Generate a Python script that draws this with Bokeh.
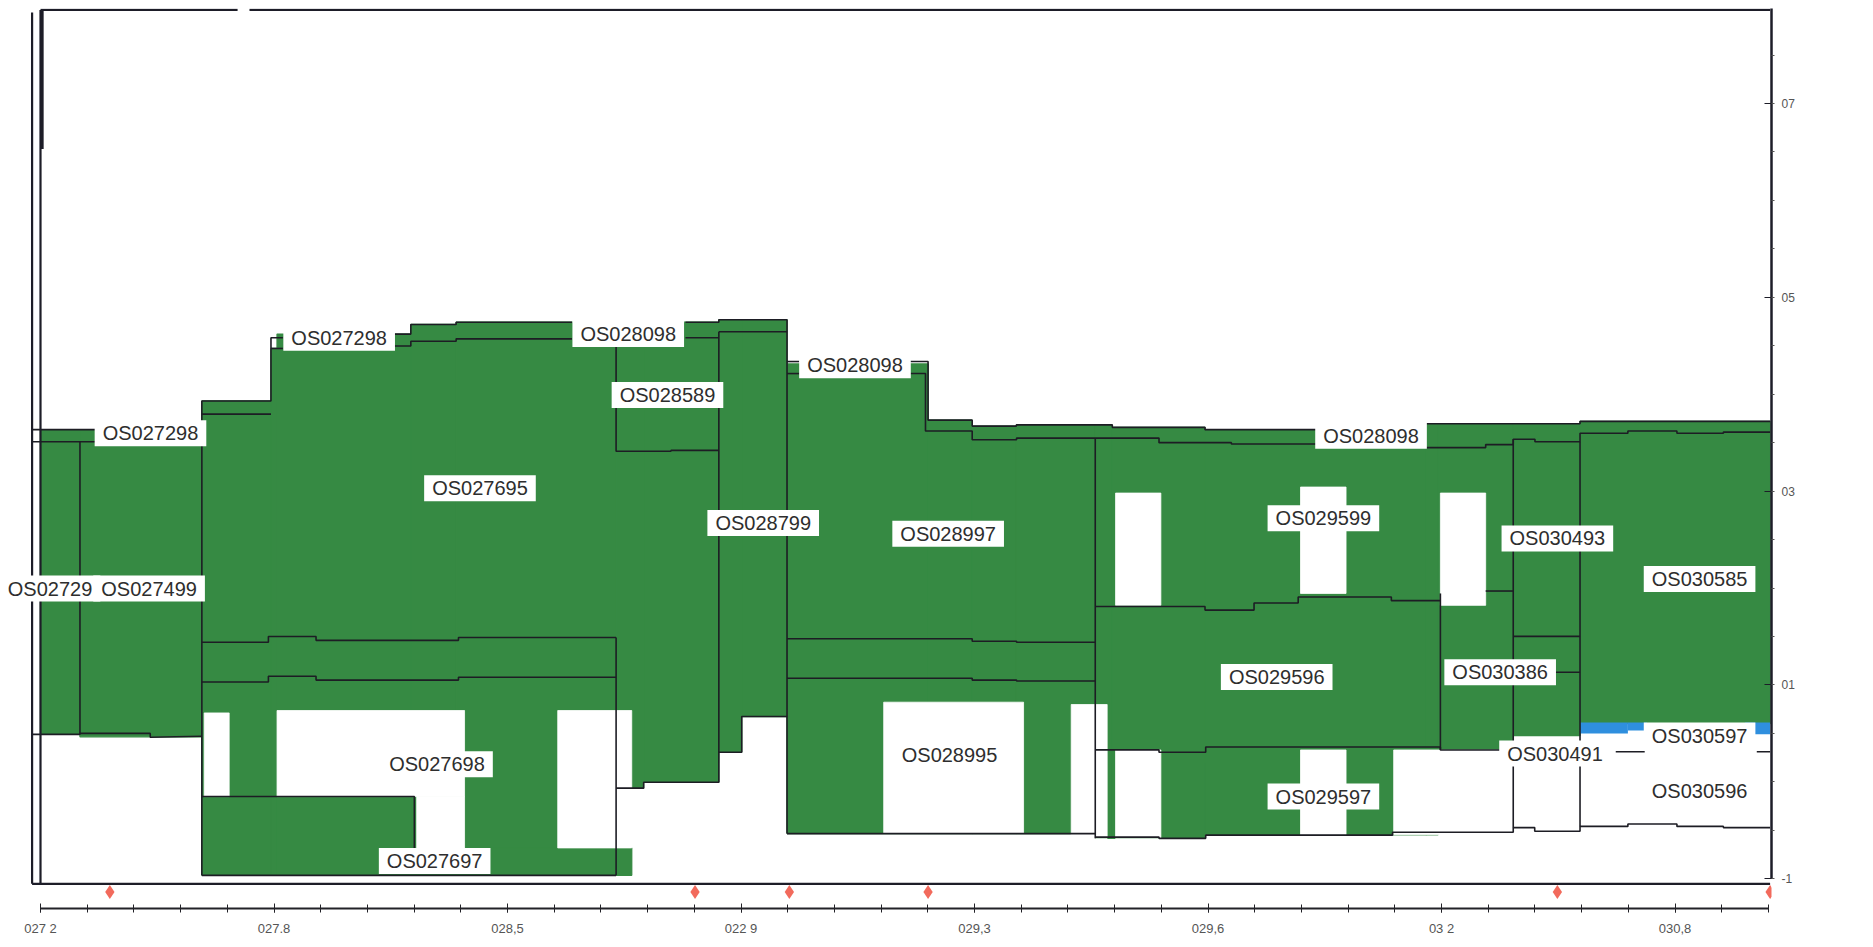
from bokeh.plotting import figure
from bokeh.models import Range1d, FixedTicker
from bokeh.core.properties import value
from bokeh.embed import file_html
from bokeh.resources import INLINE

# ---- axes ----
x_ticks = [0, 1, 2, 3, 4, 5, 6, 7]
x_tick_labels = ["027 2", "027.8", "028,5", "022 9", "029,3", "029,6", "03 2", "030,8"]
x_minor = [0.0, 0.2, 0.4, 0.6, 0.8, 1.0, 1.2, 1.4, 1.6, 1.8, 2.0, 2.2, 2.4, 2.6, 2.8, 3.0, 3.2,
           3.4, 3.6, 3.8, 4.0, 4.2, 4.4, 4.6, 4.8, 5.0, 5.2, 5.4, 5.6, 5.8, 6.0, 6.2, 6.4, 6.6,
           6.8, 7.0, 7.2, 7.4]
y_ticks = [-1, 1, 3, 5, 7]
y_tick_labels = ["-1", "01", "03", "05", "07"]
y_minor = [-1, -0.5, 0, 0.5, 1, 1.5, 2, 2.5, 3, 3.5, 4, 4.5, 5, 5.5, 6, 6.5, 7, 7.5]

# ---- green filled units (left, right, bottom, top) ----
green_x0 = [0.000, 0.169, 0.691, 0.987, 1.013, 1.586, 1.780, 2.465, 2.583, 2.905, 3.003, 1.918,
            3.197, 3.801, 3.990, 4.179, 4.517, 4.590, 4.987, 5.934, 5.985, 6.307, 6.593]
green_x1 = [0.169, 0.691, 0.987, 1.013, 1.586, 1.780, 2.465, 2.583, 2.905, 3.003, 3.197, 2.532,
            3.801, 3.990, 4.179, 4.517, 4.590, 4.987, 5.934, 5.985, 6.307, 6.593, 7.407]
green_y0 = [0.490, 0.465, -0.965, -0.965, -0.965, -0.965, -0.965, -0.065, -0.004, 0.305, 0.674, -0.965,
            -0.534, -0.534, -0.534, -0.534, -0.583, -0.583, -0.546, -0.546, 0.329, 0.477, 0.600]
green_y1 = [3.634, 3.634, 3.930, 4.472, 4.620, 4.719, 4.743, 4.743, 4.743, 4.768, 4.768, -0.682,
            4.312, 3.732, 3.671, 3.683, 3.683, 3.658, 3.634, 3.695, 3.695, 3.695, 3.720]

# ---- white (empty) cells inside the green ----
white_x0 = [0.701, 1.013, 1.611, 2.215, 3.611, 4.414, 4.604, 5.396, 4.604, 5.396, 5.795, 5.995]
white_x1 = [0.808, 1.816, 1.816, 2.532, 4.210, 4.568, 4.798, 5.591, 4.798, 5.591, 6.317, 6.189]
white_y0 = [-0.152, -0.152, -0.682, -0.682, -0.534, -0.583, 1.821, 1.944, -0.583, -0.546, -0.546, 1.821]
white_y1 = [0.711, 0.736, -0.152, 0.736, 0.822, 0.798, 2.980, 3.042, 0.329, 0.329, 0.329, 2.980]

# ---- blue unit (OS030597) ----
blue_x0 = [6.593, 6.798, 7.300]
blue_x1 = [6.798, 6.880, 7.407]
blue_y0 = [0.500, 0.530, 0.490]
blue_y1 = [0.613, 0.613, 0.613]

# ---- unit boundaries (polylines) ----
bound_xs = [
    [-0.036, 0.256], [-0.036, 0.256], [0.169, 0.169],
    [-0.036, 0.169, 0.169, 0.47, 0.47, 0.691],
    [0.691, 0.691, 0.987, 0.987, 1.038],
    [0.987, 1.038],
    [1.509, 1.586, 1.586, 1.780, 1.780, 2.276],
    [2.762, 2.905, 2.905, 3.197, 3.197],
    [0.691, 0.987],
    [1.509, 1.586, 1.586, 1.780, 1.780, 2.276],
    [2.762, 2.905], [2.905, 3.197],
    [2.465, 2.465, 2.70, 2.70, 2.905],
    [2.905, 2.905, 2.583, 2.583, 2.465],
    [2.905, 3.003, 3.003, 3.197],
    [0.691, 0.976, 0.976, 1.18, 1.18, 1.79, 1.79, 2.465],
    [0.691, 0.976, 0.976, 1.18, 1.18, 1.79, 1.79, 2.465],
    [2.465, 2.465], [0.691, 2.465],
    [0.691, 1.601, 1.601],
    [3.197, 3.25],
    [3.719, 3.801, 3.801, 3.990, 3.990, 4.179, 4.179, 4.590, 4.590, 4.987, 4.987, 5.463],
    [5.934, 6.593, 6.593, 7.407],
    [3.197, 3.25],
    [3.719, 3.79, 3.79, 3.99, 3.99, 4.18, 4.18, 4.79, 4.79, 5.10, 5.10, 5.463],
    [5.934, 6.189, 6.189, 6.307, 6.307, 6.40, 6.40, 6.593, 6.593, 6.798, 6.798, 7.008, 7.008,
     7.207, 7.207, 7.407],
    [3.197, 3.99, 3.99, 4.18, 4.18, 4.517],
    [3.197, 3.99, 3.99, 4.18, 4.18, 4.517],
    [3.197, 4.517], [4.517, 4.517],
    [4.517, 4.987, 4.987, 5.197, 5.197, 5.386, 5.386, 5.785, 5.785, 5.995],
    [5.995, 5.995],
    [4.517, 4.79, 4.79, 4.99, 4.99, 5.995, 5.995, 6.27],
    [4.517, 4.79, 4.79, 4.99, 4.99, 5.79, 5.79, 6.307, 6.307, 6.399, 6.399, 6.593, 6.593, 6.798,
     6.798, 7.008, 7.008, 7.207, 7.207, 7.407],
    [6.189, 6.307], [6.307, 6.307], [6.593, 6.593], [6.307, 6.593], [6.45, 6.593],
    [6.746, 6.87], [7.35, 7.407],
]
bound_ys = [
    [3.634, 3.634], [3.51, 3.51], [0.49, 3.51],
    [0.49, 0.49, 0.50, 0.50, 0.46, 0.47],
    [-0.965, 3.93, 3.93, 4.583, 4.583],
    [4.472, 4.472],
    [4.620, 4.620, 4.719, 4.719, 4.743, 4.743],
    [4.743, 4.743, 4.768, 4.768, -0.534],
    [3.794, 3.794],
    [4.497, 4.497, 4.546, 4.546, 4.571, 4.571],
    [4.583, 4.583], [4.645, 4.645],
    [4.571, 3.412, 3.412, 3.42, 3.42],
    [4.645, -0.004, -0.004, -0.065, -0.065],
    [0.305, 0.305, 0.674, 0.674],
    [1.44, 1.44, 1.50, 1.50, 1.46, 1.46, 1.49, 1.49],
    [1.03, 1.03, 1.09, 1.09, 1.05, 1.05, 1.08, 1.08],
    [1.49, -0.965], [-0.965, -0.965],
    [-0.152, -0.152, -0.682],
    [4.337, 4.337],
    [4.337, 4.337, 3.732, 3.732, 3.671, 3.671, 3.683, 3.683, 3.658, 3.658, 3.634, 3.634],
    [3.695, 3.695, 3.720, 3.720],
    [4.213, 4.213],
    [4.213, 4.213, 3.62, 3.62, 3.53, 3.53, 3.547, 3.547, 3.50, 3.50, 3.486, 3.486],
    [3.449, 3.449, 3.48, 3.48, 3.535, 3.535, 3.51, 3.51, 3.597, 3.597, 3.62, 3.62, 3.597,
     3.597, 3.609, 3.609],
    [1.476, 1.476, 1.45, 1.45, 1.44, 1.44],
    [1.069, 1.069, 1.05, 1.05, 1.04, 1.04],
    [-0.534, -0.534], [3.547, -0.583],
    [1.81, 1.81, 1.772, 1.772, 1.846, 1.846, 1.907, 1.907, 1.87, 1.87],
    [1.944, 0.329],
    [0.33, 0.33, 0.305, 0.305, 0.36, 0.36, 0.329, 0.329],
    [-0.57, -0.57, -0.583, -0.583, -0.55, -0.55, -0.52, -0.52, -0.472, -0.472, -0.51, -0.51,
     -0.46, -0.46, -0.435, -0.435, -0.46, -0.46, -0.472, -0.472],
    [1.969, 1.969], [3.535, -0.472], [3.51, -0.46], [1.501, 1.501], [1.131, 1.131],
    [0.31, 0.31], [0.31, 0.31],
]

# ---- section frame ----
frame_xs = [[0.0, 0.844], [0.895, 7.407], [-0.036, -0.036], [0.0, 0.0], [-0.036, 7.407]]
frame_ys = [[7.965, 7.965], [7.965, 7.965], [-1.052, 7.94], [-1.052, 7.965], [-1.052, -1.052]]
thick_xs = [0.006, 0.006]
thick_ys = [6.53, 7.965]

# ---- unit labels ----
label_text = ["OS027298", "OS02729", "OS027499", "OS027298", "OS028098", "OS028589", "OS027695",
              "OS028799", "OS028098", "OS028997", "OS028995", "OS027698", "OS027697", "OS028098",
              "OS029599", "OS029596", "OS029597", "OS030493", "OS030386", "OS030585", "OS030491",
              "OS030597", "OS030596"]
label_x = [0.471, 0.041, 0.465, 1.279, 2.517, 2.685, 1.882, 3.095, 3.488, 3.887, 3.893, 1.698,
           1.688, 5.698, 5.494, 5.294, 5.494, 6.496, 6.251, 7.105, 6.486, 7.105, 7.105]
label_y = [3.597, 1.994, 1.994, 4.583, 4.620, 3.991, 3.030, 2.672, 4.300, 2.561, 0.280, 0.181,
           -0.817, 3.572, 2.721, 1.081, -0.152, 2.512, 1.131, 2.092, 0.292, 0.477, -0.090]

# ---- markers ----
mark_x = [0.297, 2.803, 3.207, 3.801, 6.496, 7.407]
mark_y = [-1.138, -1.138, -1.138, -1.138, -1.138, -1.138]

GREEN = "#368a43"
p = figure(width=1857, height=939, x_range=Range1d(-0.1456, 7.413), y_range=Range1d(-1.307, 7.98),
           output_backend="svg", toolbar_location=None, y_axis_location="right",
           min_border_left=6, min_border_top=8, min_border_right=86, min_border_bottom=31)
p.outline_line_color = None
p.grid.visible = False

p.quad(left=green_x0, right=green_x1, bottom=green_y0, top=green_y1,
       fill_color=GREEN, line_color=GREEN, line_width=1.3)
p.quad(left=white_x0, right=white_x1, bottom=white_y0, top=white_y1,
       fill_color="white", line_color="white", line_width=0.8)
p.quad(left=blue_x0, right=blue_x1, bottom=blue_y0, top=blue_y1,
       fill_color="#2f8fde", line_color=None)
p.multi_line(bound_xs, bound_ys, line_color="#1d1d24", line_width=1.6)
p.multi_line(frame_xs, frame_ys, line_color="#1d1d28", line_width=2.2)
p.line(thick_xs, thick_ys, line_color="#1d1d28", line_width=3.5)
p.scatter(mark_x, mark_y, marker="diamond", size=14, fill_color="#f26a5c", line_color=None)

p.text(label_x, label_y, text=label_text, text_align="center", text_baseline="middle",
       text_font=value("Liberation Sans"), text_font_size="20px", text_color="#2e2e2e",
       background_fill_color="white", padding=(8, 2))

xa = p.xaxis[0]
xa.ticker = FixedTicker(ticks=x_ticks, minor_ticks=x_minor)
xa.major_label_overrides = dict(zip(x_ticks, x_tick_labels))
xa.bounds = (0, 7.4)
xa.axis_line_width = 2
xa.axis_line_color = "#222228"
xa.major_tick_line_color = "#222228"
xa.minor_tick_line_color = "#222228"
xa.major_tick_in = 5
xa.major_tick_out = 4
xa.minor_tick_in = 4
xa.minor_tick_out = 4
xa.major_label_standoff = 8
xa.major_label_text_font = "Liberation Sans"
xa.major_label_text_font_size = "13px"
xa.major_label_text_color = "#555555"

ya = p.yaxis[0]
ya.ticker = FixedTicker(ticks=y_ticks, minor_ticks=y_minor)
ya.major_label_overrides = dict(zip(y_ticks, y_tick_labels))
ya.bounds = (-1, 7.98)
ya.axis_line_width = 2.5
ya.axis_line_color = "#1d1d28"
ya.major_tick_line_color = "#1d1d28"
ya.minor_tick_line_color = "#555555"
ya.major_tick_in = 7
ya.major_tick_out = 2
ya.minor_tick_in = 0
ya.minor_tick_out = 3
ya.major_label_standoff = 7
ya.major_label_text_font = "Liberation Sans"
ya.major_label_text_font_size = "12px"
ya.major_label_text_color = "#555555"

open("out.html", "w").write(file_html(p, INLINE))
